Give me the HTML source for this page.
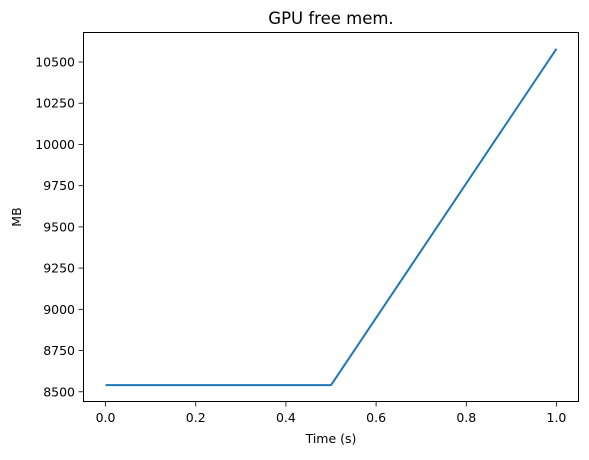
<!DOCTYPE html>
<html><head><meta charset="utf-8"><style>
body{margin:0;background:#fff;font-family:"Liberation Sans","DejaVu Sans",sans-serif}
svg text{font-family:"DejaVu Sans","Liberation Sans",sans-serif;font-size:12.5px;fill:#000}
svg text.title{font-size:16.5px}
</style></head><body>
<svg id="c" width="589" height="455"></svg>
<script>
const xValues=[0,0.5,1.0];
const yValues=[8540,8540,10580];
const xTicks=[0.0,0.2,0.4,0.6,0.8,1.0];
const yTicks=[8500,8750,9000,9250,9500,9750,10000,10250,10500];
const L=83,R=579,T=32,B=402;
const xmin=-0.05,xmax=1.05;
const dmin=Math.min(...yValues),dmax=Math.max(...yValues),m=(dmax-dmin)*0.05;
const ymin=dmin-m,ymax=dmax+m;
const sx=v=>L+(v-xmin)/(xmax-xmin)*(R-L);
const sy=v=>B-(v-ymin)/(ymax-ymin)*(B-T);
const svg=document.getElementById('c');const NS='http://www.w3.org/2000/svg';
function mk(t,a,p){const e=document.createElementNS(NS,t);for(const k in a)e.setAttribute(k,a[k]);(p||svg).appendChild(e);return e;}
let e;
e=mk('rect',{x:L+0.5,y:T+0.5,width:R-L-1,height:B-T-1,fill:'none',stroke:'#000','stroke-width':1});


xTicks.forEach(v=>{const x=sx(v);
e=mk('line',{x1:x,x2:x,y1:B,y2:B+4.5,stroke:'#000','stroke-width':0.8});


e=mk('text',{x:x,y:B+20,'text-anchor':'middle'});e.textContent=v.toFixed(1);

});
yTicks.forEach(v=>{const y=sy(v);
e=mk('line',{x1:L-4.5,x2:L,y1:y,y2:y,stroke:'#000','stroke-width':0.8});


e=mk('text',{x:L-8,y:y+4.5,'text-anchor':'end'});e.textContent=v;

});
e=mk('polyline',{points:xValues.map((x,i)=>sx(x)+','+sy(yValues[i])).join(' '),fill:'none',stroke:'#1f77b4','stroke-width':2});


e=mk('text',{x:(L+R)/2,y:T-8,'text-anchor':'middle',class:'title'});e.textContent='GPU free mem.';


e=mk('text',{x:(L+R)/2,y:443,'text-anchor':'middle'});e.textContent='Time (s)';


e=mk('text',{x:0,y:0,'text-anchor':'middle',transform:'translate(21,'+((T+B)/2)+') rotate(-90)'});e.textContent='MB';


</script>
</body></html>
